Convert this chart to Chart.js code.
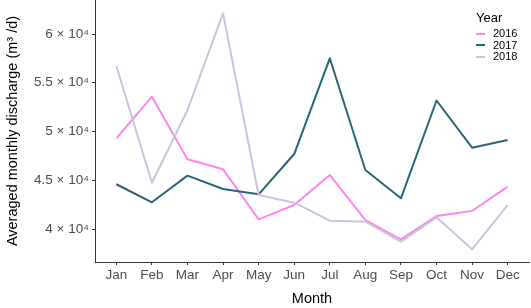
<!DOCTYPE html>
<html>
<head>
<meta charset="utf-8">
<script src="https://cdn.jsdelivr.net/npm/chart.js@4"></script>
<style>
  html, body { margin: 0; padding: 0; background: #fff; }
  #wrap { position: relative; width: 531px; height: 308px; }
  #legend { position: absolute; left: 476px; top: 10px; font-family: "Liberation Sans", Arial, sans-serif; color: #000; }
  #legend .ttl { font-size: 13px; line-height: 16px; margin-bottom: 2px; }
  #legend .row { font-size: 11px; line-height: 11.5px; display: flex; align-items: center; }
  #legend .sw { width: 9px; height: 2px; margin-right: 8px; }
</style>
</head>
<body>
<div id="wrap">
  <canvas id="c" width="531" height="308"></canvas>
  <div id="legend"></div>
</div>
<script>
const months = ["Jan", "Feb", "Mar", "Apr", "May", "Jun", "Jul", "Aug", "Sep", "Oct", "Nov", "Dec"];
const years = ["2016", "2017", "2018"];
const q2016 = [49300, 53570, 47150, 46120, 40990, 42460, 45540, 40920, 38940, 41330, 41850, 44340];
const q2017 = [44590, 42740, 45470, 44100, 43560, 47690, 57510, 46050, 43150, 53180, 48340, 49130];
const q2018 = [56720, 44750, 52205, 62120, 43490, 42700, 40850, 40750, 38700, 41200, 37920, 42460];
const yTicks = [40000, 45000, 50000, 55000, 60000];

const colors = ["#ff85ec", "#2a6479", "#c9c4dd"];
const series = [q2016, q2017, q2018];

const font = "'Liberation Sans', Arial, sans-serif";

const datasets = series.map((vals, i) => ({
  label: years[i],
  data: vals.map((v, k) => ({ x: k, y: v })),
  borderColor: colors[i],
  backgroundColor: colors[i],
  borderWidth: 2,
  pointRadius: 0,
  tension: 0,
  borderJoinStyle: "round",
  order: 2 - i,
}));

// legend (ggplot style, inside the panel)
const lg = document.getElementById("legend");
lg.innerHTML = '<div class="ttl">Year</div>' + years.map((y, i) =>
  `<div class="row"><span class="sw" style="background:${colors[i]}"></span>${y}</div>`).join("");

new Chart(document.getElementById("c"), {
  type: "line",
  data: { datasets },
  options: {
    responsive: false,
    animation: false,
    devicePixelRatio: 1,
    layout: { padding: { top: 0, right: 2, left: 0, bottom: 0 } },
    plugins: { legend: { display: false }, tooltip: { enabled: false } },
    scales: {
      x: {
        type: "linear",
        min: -0.6,
        max: 11.6,
        afterBuildTicks: (s) => { s.ticks = months.map((m, i) => ({ value: i })); },
        afterFit: (s) => { s.height = 46; s.paddingLeft = 0; s.paddingRight = 0; },
        ticks: {
          autoSkip: false,
          maxRotation: 0,
          padding: 2,
          color: "#4d4d4d",
          font: { family: font, size: 13.5 },
          callback: (v) => months[v],
        },
        grid: { drawOnChartArea: false, tickLength: 3, color: "#333" },
        border: { color: "#333", width: 1 },
        title: { display: true, text: "Month", color: "#000", font: { family: font, size: 14.5 }, padding: { top: 0, bottom: 0 } },
      },
      y: {
        min: 36615,
        max: 63490,
        afterBuildTicks: (s) => { s.ticks = yTicks.map((v) => ({ value: v })); },
        afterFit: (s) => { s.width = 95; s.paddingTop = 0; s.paddingBottom = 0; },
        ticks: {
          padding: 3,
          color: "#4d4d4d",
          font: { family: font, size: 13.5 },
          callback: (v) => (v / 10000) + " \u00d7 10\u2074",
        },
        grid: { drawOnChartArea: false, tickLength: 3, color: "#333" },
        border: { color: "#333", width: 1 },
        title: { display: true, text: "Averaged monthly discharge (m\u00b3 /d)", color: "#000", font: { family: font, size: 14.5 }, padding: { top: 4, bottom: 0 } },
      },
    },
  },
});
</script>
</body>
</html>
